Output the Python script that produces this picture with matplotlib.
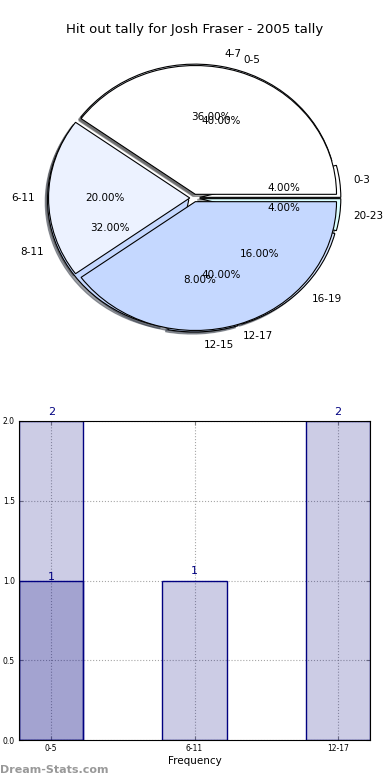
import numpy as np
import matplotlib
matplotlib.use('Agg')
import matplotlib.pyplot as plt

# Hit outs by quarter time (4 minute blocks) and by 6 minute blocks
hour_labels = ['0-3', '4-7', '8-11', '12-15', '16-19', '20-23']
hour_pcts = [4, 36, 32, 8, 16, 4]
block_labels = ['0-5', '6-11', '12-17']
block_counts = [2, 1, 2]
extra_labels = ['0-5']
extra_counts = [1]

title = 'Hit out tally for Josh Fraser - 2005 tally'

hour_colors = ['#ffffff', '#eef3ff', '#c5d8ff', '#b7cdf5', '#d6e4ff', '#dcffff']
block_colors = ['#ffffff', '#ecf2ff', '#c5d8ff']

fig = plt.figure(figsize=(3.9, 7.8), dpi=100)

# Pie chart (two overlaid pies)
ax1 = fig.add_axes([17.5/390, 1 - 359/780, 353/390, 322/780])
wp = {'edgecolor': 'black', 'linewidth': 0.8}
shd = {'ox': -0.012, 'oy': -0.012}
ax1.pie(hour_pcts, labels=hour_labels, colors=hour_colors, autopct='%.2f%%',
        explode=[0.04]*len(hour_pcts), shadow=shd, wedgeprops=wp,
        textprops={'fontsize': 7.5})
ax1.pie(block_counts, labels=block_labels, colors=block_colors, autopct='%.2f%%',
        explode=[0.03]*len(block_counts), shadow=shd, wedgeprops=wp,
        textprops={'fontsize': 7.5})
ax1.set_aspect('auto')
ax1.set_xlim(-1.25, 1.25)
ax1.set_ylim(-1.25, 1.25)
fig.text(0.5, 1 - 30/780, title, ha='center', va='center', fontsize=9.5)

# Bar chart
ax2 = fig.add_axes([19/390, 40/780, 351/390, 319/780])
x = np.arange(len(block_labels))
w = 0.45
ax2.bar(x, block_counts, width=w, facecolor=(0, 0, 0.5, 0.2), edgecolor='navy', linewidth=1)
ax2.bar([block_labels.index(l) for l in extra_labels], extra_counts, width=w,
        facecolor=(0, 0, 0.5, 0.2), edgecolor='navy', linewidth=1)
for i, v in enumerate(block_counts):
    ax2.annotate(str(v), (x[i], v), xytext=(0, 3), textcoords='offset points',
                 ha='center', va='bottom', color='navy', fontsize=8, annotation_clip=False)
for l, v in zip(extra_labels, extra_counts):
    ax2.annotate(str(v), (block_labels.index(l), v), xytext=(0, -1), textcoords='offset points',
                 ha='center', va='bottom', color='navy', fontsize=8, annotation_clip=False)

ax2.set_xlim(-w/2, len(block_labels) - 1 + w/2)
ax2.set_ylim(0, 2)
ax2.set_xticks(x)
ax2.set_xticklabels(block_labels)
ax2.set_yticks([0, 0.5, 1.0, 1.5, 2.0])
ax2.set_yticklabels(['0.0', '0.5', '1.0', '1.5', '2.0'])
ax2.tick_params(direction='in', top=True, right=True, labelsize=5.5, length=3, color='gray', pad=3)
ax2.grid(True, linestyle=':', color='gray', linewidth=0.8, alpha=0.7)
ax2.set_axisbelow(True)
ax2.set_xlabel('Frequency', fontsize=7.5, labelpad=2)

fig.text(0.0, 1 - 770/780, 'Dream-Stats.com', ha='left', va='center', fontsize=8,
         color='#999999', fontweight='bold')

plt.savefig('out.png', dpi=100)
